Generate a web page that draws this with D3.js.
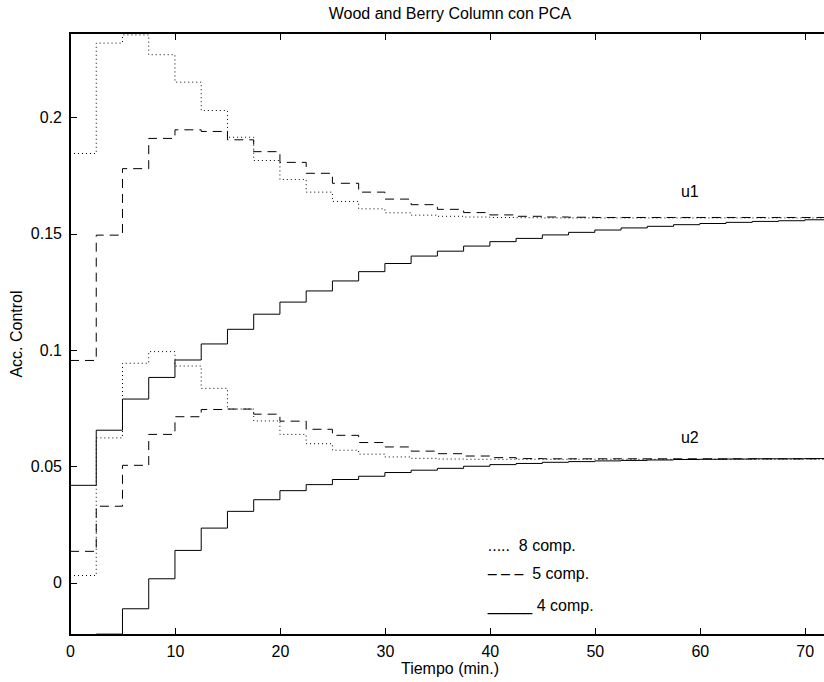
<!DOCTYPE html>
<html>
<head>
<meta charset="utf-8">
<script src="https://cdn.jsdelivr.net/npm/d3@7"></script>
<style>
  html, body { margin: 0; padding: 0; background: #fff; }
  svg { display: block; }
  text { font-family: "Liberation Sans", Arial, Helvetica, sans-serif; fill: #000; }
</style>
</head>
<body>
<div id="chart"></div>
<script>
// sample instants (min), zero-order hold every 2.5 min
var times = [0, 2.5, 5, 7.5, 10, 12.5, 15, 17.5, 20, 22.5, 25, 27.5, 30, 32.5, 35,
  37.5, 40, 42.5, 45, 47.5, 50, 52.5, 55, 57.5, 60, 62.5, 65, 67.5, 70, 72.5];

// u1
var u1_8comp = [0.1845, 0.2320, 0.2355, 0.2270, 0.2152, 0.2030, 0.1915, 0.1815, 0.1733, 0.1679,
  0.1639, 0.1607, 0.1590, 0.1580, 0.1575, 0.1572, 0.1570, 0.1569, 0.1568, 0.1568,
  0.1568, 0.1568, 0.1568, 0.1568, 0.1568, 0.1568, 0.1568, 0.1568, 0.1568, 0.1568];
var u1_5comp = [0.0955, 0.1494, 0.1780, 0.1910, 0.1947, 0.1940, 0.1904, 0.1853, 0.1807, 0.1760,
  0.1717, 0.1679, 0.1649, 0.1625, 0.1605, 0.1591, 0.1581, 0.1575, 0.1572, 0.1571,
  0.1570, 0.1570, 0.1570, 0.1570, 0.1570, 0.1570, 0.1570, 0.1570, 0.1570, 0.1570];
var u1_4comp = [0.0418, 0.0655, 0.0789, 0.0882, 0.0957, 0.1026, 0.1089, 0.1154, 0.1206, 0.1254,
  0.1297, 0.1337, 0.1372, 0.1404, 0.1425, 0.1447, 0.1466, 0.1480, 0.1495, 0.1506,
  0.1516, 0.1525, 0.1532, 0.1539, 0.1544, 0.1549, 0.1553, 0.1556, 0.1560, 0.1560];

// u2
var u2_8comp = [0.0030, 0.0622, 0.0943, 0.0993, 0.0931, 0.0835, 0.0746, 0.0695, 0.0637, 0.0597,
  0.0569, 0.0552, 0.0540, 0.0534, 0.0531, 0.0530, 0.0530, 0.0530, 0.0530, 0.0530,
  0.0530, 0.0530, 0.0530, 0.0530, 0.0530, 0.0530, 0.0530, 0.0530, 0.0530, 0.0530];
var u2_5comp = [0.0134, 0.0328, 0.0504, 0.0637, 0.0713, 0.0744, 0.0746, 0.0724, 0.0694, 0.0659,
  0.0633, 0.0602, 0.0583, 0.0565, 0.0554, 0.0544, 0.0537, 0.0533, 0.0532, 0.0532,
  0.0532, 0.0532, 0.0532, 0.0532, 0.0532, 0.0532, 0.0532, 0.0532, 0.0532, 0.0532];
var u2_4comp = [-0.0400, -0.0222, -0.0113, 0.0016, 0.0138, 0.0234, 0.0306, 0.0356, 0.0395, 0.0421,
  0.0443, 0.0457, 0.0473, 0.0483, 0.0491, 0.0500, 0.0507, 0.0512, 0.0517, 0.0520,
  0.0523, 0.0525, 0.0527, 0.0529, 0.0530, 0.0531, 0.0532, 0.0532, 0.0533, 0.0533];

var xTicks = [0, 10, 20, 30, 40, 50, 60, 70];
var xTickLabels = ["0", "10", "20", "30", "40", "50", "60", "70"];
var yTicks = [0, 0.05, 0.1, 0.15, 0.2];
var yTickLabels = ["0", "0.05", "0.1", "0.15", "0.2"];
var legendLabels = [".....  8 comp.", "\u2013 \u2013 \u2013  5 comp.", "_____ 4 comp."];

var W = 824, H = 682;
var margin = { top: 33, right: -7, bottom: 47, left: 70 };
var width = W - margin.left - margin.right,
    height = H - margin.top - margin.bottom;

var svg = d3.select("#chart").append("svg")
    .attr("width", W)
    .attr("height", H);

var g = svg.append("g")
    .attr("transform", "translate(" + margin.left + "," + margin.top + ")");

var x = d3.scaleLinear().domain([0, 72.5]).range([0, width]);
var y = d3.scaleLinear().domain([-0.02258, 0.23634]).range([height, 0]);

// clip
g.append("clipPath").attr("id", "plotclip")
  .append("rect").attr("x", 0).attr("y", 0).attr("width", width).attr("height", height);

// axes (MATLAB style: inward ticks)
var xAxis = g.append("g")
    .attr("transform", "translate(0," + height + ")")
    .call(d3.axisBottom(x).tickValues(xTicks)
      .tickFormat(function (d, i) { return xTickLabels[i]; })
      .tickSizeInner(-7).tickSizeOuter(0).tickPadding(11));
var xTop = g.append("g")
    .call(d3.axisTop(x).tickValues(xTicks).tickFormat("")
      .tickSizeInner(-7).tickSizeOuter(0));
var yAxis = g.append("g")
    .call(d3.axisLeft(y).tickValues(yTicks)
      .tickFormat(function (d, i) { return yTickLabels[i]; })
      .tickSizeInner(-7).tickSizeOuter(0).tickPadding(8));

[xAxis, xTop, yAxis].forEach(function (a) {
  a.select(".domain").remove();
  a.selectAll("line").attr("stroke", "#000").attr("shape-rendering", "crispEdges");
  a.selectAll("text").style("font-size", "16px")
    .style("font-family", "'Liberation Sans', Arial, sans-serif");
});

// frame
g.append("path")
  .attr("d", "M" + width + ",0H0V" + height + "H" + width)
  .attr("fill", "none")
  .attr("stroke", "#000")
  .attr("stroke-width", 1.3)
  .attr("shape-rendering", "crispEdges");

// step lines
var line = d3.line()
    .x(function (d) { return x(d[0]); })
    .y(function (d) { return y(d[1]); })
    .curve(d3.curveStepAfter);

var series = [
  { v: u1_8comp, dash: "1,3" },
  { v: u1_5comp, dash: "9,6" },
  { v: u1_4comp, dash: null },
  { v: u2_8comp, dash: "1,3" },
  { v: u2_5comp, dash: "9,6" },
  { v: u2_4comp, dash: null }
];

var plot = g.append("g").attr("clip-path", "url(#plotclip)");
series.forEach(function (s) {
  plot.append("path")
    .datum(times.map(function (t, i) { return [t, s.v[i]]; }))
    .attr("fill", "none")
    .attr("stroke", "#000")
    .attr("stroke-width", 1)
    .attr("stroke-dasharray", s.dash)
    .attr("d", line);
});

// curve labels
g.append("text").attr("x", x(58.2)).attr("y", y(0.166))
  .style("font-size", "16px").text("u1");
g.append("text").attr("x", x(58.2)).attr("y", y(0.060))
  .style("font-size", "16px").text("u2");

// legend (text, as in the original)
var legendY = [550.5, 579, 611];
g.selectAll(".leg").data(legendLabels).enter().append("text")
  .attr("class", "leg")
  .attr("x", x(39.8))
  .attr("y", function (d, i) { return legendY[i] - margin.top; })
  .style("font-size", "16px")
  .style("white-space", "pre")
  .text(function (d) { return d; });

// title
svg.append("text")
  .attr("x", 450)
  .attr("y", 19)
  .attr("text-anchor", "middle")
  .style("font-size", "16px")
  .text("Wood and Berry Column con PCA");

// x label
svg.append("text")
  .attr("x", 450)
  .attr("y", 674)
  .attr("text-anchor", "middle")
  .style("font-size", "16px")
  .text("Tiempo (min.)");

// y label
svg.append("text")
  .attr("transform", "translate(22," + (margin.top + height / 2) + ") rotate(-90)")
  .attr("text-anchor", "middle")
  .style("font-size", "16px")
  .text("Acc. Control");
</script>
</body>
</html>
